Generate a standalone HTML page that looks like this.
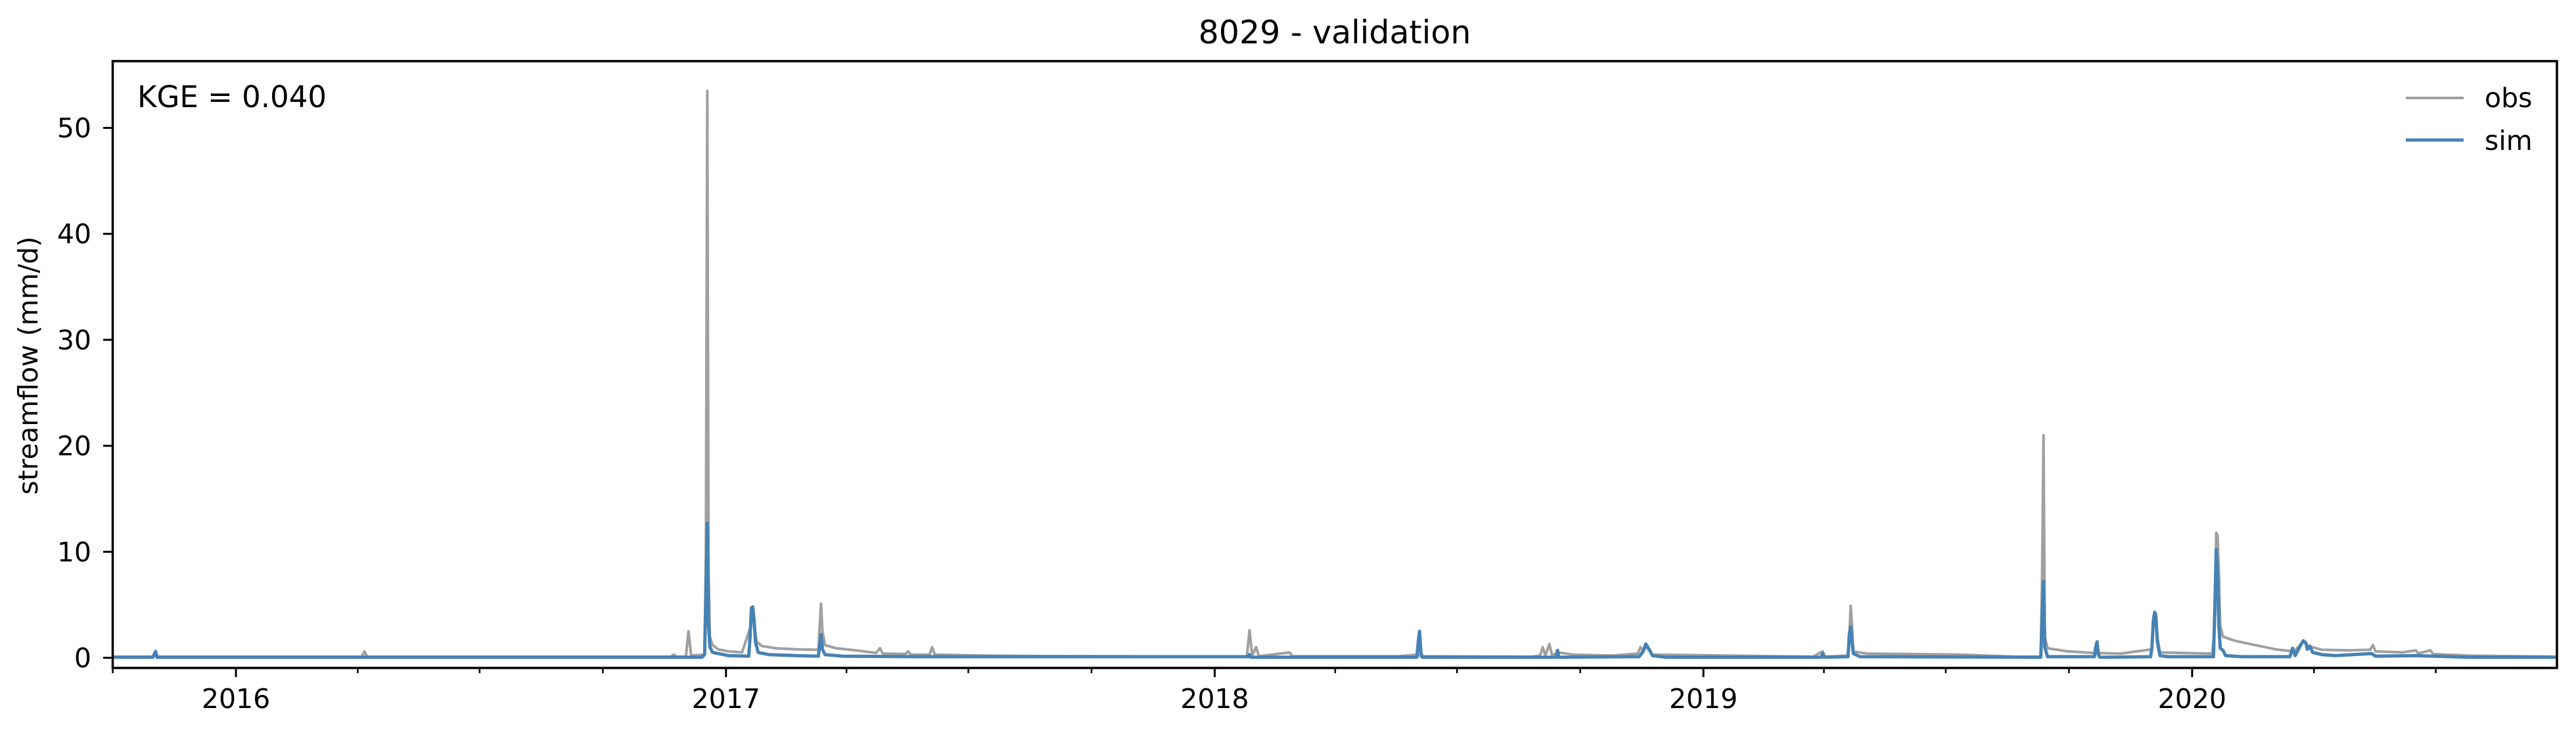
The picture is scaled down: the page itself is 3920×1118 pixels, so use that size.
<!DOCTYPE html>
<html><head><meta charset="utf-8"><style>
html,body{margin:0;padding:0;background:#fff;}
svg{display:block;}
text{font-family:"DejaVu Sans","Liberation Sans",sans-serif;fill:#000;}
</style></head><body>
<svg id="chart" width="3920" height="1118" viewBox="0 0 3920 1118" xmlns="http://www.w3.org/2000/svg">
<text x="2031" y="66" font-size="49" text-anchor="middle">8029 - validation</text>
<g id="plot"></g>
<rect x="171.5" y="93" width="3719.5" height="923" fill="none" stroke="#000" stroke-width="3.5"/>
<text x="209" y="163" font-size="45">KGE = 0.040</text>
<text transform="translate(57,556) rotate(-90)" font-size="41" text-anchor="middle">streamflow (mm/d)</text>
<g>
<line x1="3661" y1="149" x2="3749" y2="149" stroke="#a0a0a0" stroke-width="4"/>
<text x="3781" y="163" font-size="41">obs</text>
<line x1="3661" y1="213" x2="3749" y2="213" stroke="#4682b4" stroke-width="5"/>
<text x="3781" y="228" font-size="41">sim</text>
</g>
</svg>
<script>
// data: day index from 2015-10-01
const obsDays=[0,30,32,34,186,188,190,417,419,421,428,430,432,442,443,444,445,446,448,452,460,470,476,477,478,479,481,485,495,510,527,528,529,530,532,540,555,570,573,575,592,594,596,610,612,614,650,700,800,847,849,851,854,856,879,881,960,975,977,1060,1066,1068,1070,1073,1075,1079,1091,1120,1139,1141,1143,1145,1150,1270,1277,1279,1296,1297,1298,1299,1300,1310,1380,1420,1440,1441,1442,1443,1445,1460,1473,1480,1500,1523,1524,1525,1526,1527,1529,1568,1570,1571,1572,1573,1574,1576,1585,1600,1615,1625,1630,1636,1640,1650,1670,1686,1688,1690,1710,1720,1722,1731,1733,1760,1825];
const obsVals=[0.1,0.1,0.4,0.1,0.1,0.6,0.1,0.1,0.3,0.1,0.1,2.5,0.2,0.3,10,53.5,8,2,1.2,0.8,0.6,0.5,2.8,4.5,4.6,3,1.5,1.1,0.9,0.8,0.75,3,5.1,2.5,1.2,0.9,0.7,0.45,0.9,0.4,0.35,0.6,0.3,0.3,1.0,0.3,0.2,0.15,0.12,0.1,2.6,0.2,1.0,0.15,0.5,0.15,0.15,0.3,0.15,0.1,0.2,1.0,0.2,1.3,0.2,0.5,0.3,0.2,0.4,1.0,0.6,1.1,0.3,0.1,0.6,0.1,0.2,2,4.9,3,0.6,0.4,0.3,0.1,0.1,8,21,2,0.9,0.6,0.5,0.45,0.4,0.8,3.5,4.3,4.2,2,0.5,0.4,3,11.8,11.5,8,3,2.0,1.6,1.2,0.8,0.65,0.7,1.5,1.1,0.75,0.7,0.75,1.2,0.6,0.5,0.7,0.4,0.7,0.35,0.2,0.1];
const simDays=[0,30,32,33,440,442,443,444,445,446,448,452,460,475,476,477,478,479,480,482,490,510,527,528,529,530,532,545,600,848,849,850,974,975,976,977,978,1078,1079,1080,1140,1143,1145,1147,1150,1160,1276,1277,1278,1296,1297,1298,1299,1300,1305,1440,1441,1442,1443,1445,1480,1481,1482,1483,1484,1522,1523,1524,1525,1526,1527,1529,1535,1569,1570,1571,1572,1573,1574,1576,1578,1590,1626,1628,1630,1634,1636,1638,1639,1641,1643,1650,1660,1687,1690,1720,1760,1825];
const simVals=[0.05,0.05,0.6,0.05,0.05,0.3,6,12.7,3,1,0.5,0.4,0.2,0.15,2,4.7,4.8,3.5,1.5,0.5,0.3,0.2,0.15,1.2,2.2,0.8,0.3,0.15,0.1,0.1,0.3,0.05,0.05,1.5,2.5,0.5,0.05,0.05,0.7,0.05,0.1,0.6,1.3,0.9,0.2,0.05,0.05,0.4,0.05,0.1,2.2,2.9,1.5,0.4,0.1,0.05,4,7.2,1,0.1,0.1,1.0,1.5,0.3,0.05,0.1,1,3.5,4.3,3.8,1.5,0.2,0.1,0.1,5,10.2,8,3,0.9,0.7,0.2,0.1,0.1,0.9,0.2,1.2,1.6,1.4,0.8,1.1,0.5,0.3,0.2,0.4,0.15,0.2,0.05,0.05];
const yTicks=[0,10,20,30,40,50];
const yearLabels=["2016","2017","2018","2019","2020"];

const NS="http://www.w3.org/2000/svg";
const T0=Date.UTC(2015,9,1), DAY=86400000;
const X0=171.6, PXD=2.0375, Y0=1000.5, PXV=16.12;
function xDay(d){return X0+d*PXD;}
function xDate(y,m){return xDay((Date.UTC(y,m,1)-T0)/DAY);}
function yVal(v){return Y0-v*PXV;}
const svg=document.getElementById('chart');
const plot=document.getElementById('plot');
function mk(tag,attrs,parent){const e=document.createElementNS(NS,tag);for(const k in attrs)e.setAttribute(k,attrs[k]);(parent||svg).appendChild(e);return e;}
const defs=mk('defs',{});
const cp=mk('clipPath',{id:'clip'},defs);
mk('rect',{x:171.5,y:93,width:3719.5,height:923},cp);
plot.setAttribute('clip-path','url(#clip)');
function series(days,vals,color,w,name){
  const pts=days.map((d,i)=>xDay(d).toFixed(1)+','+yVal(vals[i]).toFixed(1)).join(' ');
  const p=mk('polyline',{points:pts,fill:'none',stroke:color,'stroke-width':w,'stroke-linejoin':'round'},plot);
  
  
}
series(obsDays,obsVals,'#a0a0a0',4,'obs-line');
series(simDays,simVals,'#4682b4',5,'sim-line');
yTicks.forEach(v=>{
  const y=yVal(v);
  const t=mk('line',{x1:157,y1:y,x2:171.5,y2:y,stroke:'#000','stroke-width':3});
  
  
  const l=mk('text',{x:139,y:y+14.5,'font-size':41,'text-anchor':'end'});
  l.textContent=String(v);
  
  
});
for(let y=2015;y<=2020;y++){
  for(let m=0;m<12;m+=3){
    const x=xDate(y,m);
    if(x<171||x>3892)continue;
    const major=(m===0);
    const t=mk('line',{x1:x,y1:1016,x2:x,y2:major?1030:1024,stroke:'#000','stroke-width':major?3:2.5});
    
    
  }
}
yearLabels.forEach(lbl=>{
  const x=xDate(+lbl,0);
  const l=mk('text',{x:x,y:1077,'font-size':41,'text-anchor':'middle'});
  l.textContent=lbl;
  
  
});
</script>
</body></html>
